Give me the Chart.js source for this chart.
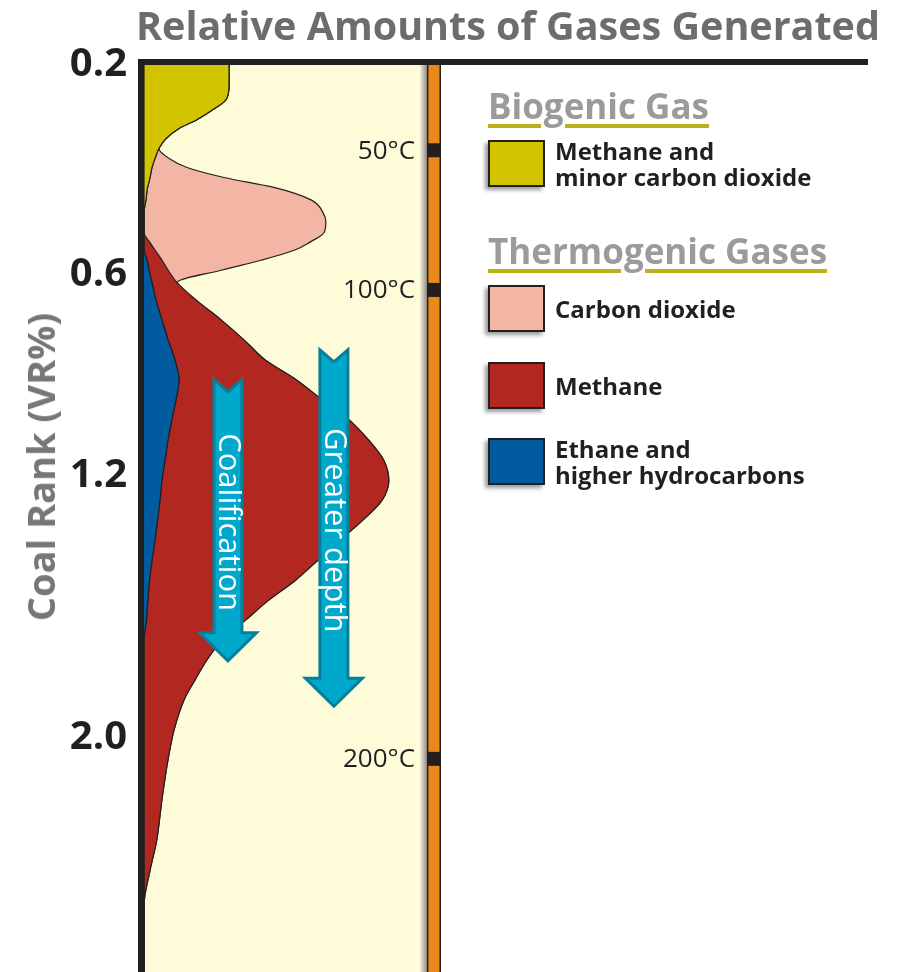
<!DOCTYPE html>
<html>
<head>
<meta charset="utf-8">
<script src="https://cdn.jsdelivr.net/npm/chart.js@4.4.1/dist/chart.umd.min.js"></script>
<style>
html,body{margin:0;padding:0;background:#fff;width:897px;height:972px;overflow:hidden;}
#wrap{position:relative;width:897px;height:972px;font-family:'Open Sans',sans-serif;}
canvas{position:absolute;left:0;top:0;}
#title{position:absolute;left:0;width:1016px;top:3px;text-align:center;font-weight:700;font-size:39.5px;line-height:44px;color:#6d6d6d;white-space:nowrap;}
#ytitle{position:absolute;left:40px;top:467px;transform:translate(-50%,-50%) rotate(-90deg);font-weight:700;font-size:38px;line-height:44px;color:#777;white-space:nowrap;}
.lg-head{position:absolute;left:488px;font-weight:700;font-size:35px;line-height:40px;color:#9b9b9b;white-space:nowrap;
  text-decoration:underline;text-decoration-color:#bdb01c;text-decoration-thickness:4px;text-underline-offset:5px;text-decoration-skip-ink:auto;}
.lg-item{position:absolute;left:488px;display:flex;align-items:center;height:47px;}
.lg-sw{width:57px;height:47px;box-sizing:border-box;border:2px solid #231f20;box-shadow:-3px 3px 4px rgba(0,0,0,0.4);flex:none;}
.lg-tx{margin-left:10px;font-weight:700;font-size:24px;line-height:26px;color:#231f20;white-space:nowrap;}
</style>
</head>
<body>
<div id="wrap">
  <canvas id="c" width="897" height="972"></canvas>
  <div id="title">Relative Amounts of Gases Generated</div>
  <div id="ytitle">Coal Rank (VR%)</div>
  <div id="legend"></div>
</div>
<script>
// ---- Axis labels ----
const rankTickLabels = ['0.2', '0.6', '1.2', '2.0'];
const rankTickDepth  = [0, 23.1, 45.3, 74.2];          // relative depth (0 = top, 100 = bottom)
const tempLabels = ['50\u00B0C', '100\u00B0C', '200\u00B0C'];
const tempDepth  = [9.4, 24.8, 76.5];

// ---- Shared depth samples (relative depth, 0..100) ----
const depth = [0,1.7,2.8,3.9,5.0,6.1,7.0,8.1,9.2,10.3,11.3,12.4,13.5,14.9,16.3,17.3,18.5,19.5,20.4,21.5,
  22.6,24.0,25.9,28.1,30.3,32.5,34.7,36.9,39.1,41.4,43.6,45.8,48.0,50.2,52.4,54.6,56.8,59.0,61.2,63.4,
  65.6,67.8,70.0,73.3,76.6,81.0,85.5,88.8,92.7,96.5,100];

// ---- Relative amounts generated (stacked widths) ----
const ethaneHigher = [0,0,0,0,0,0,0,0,0,0,0,0,0,0,0,0,0,0,0,1.1,
  1.8,2.9,4.3,6.5,8.7,11.2,12.7,11.6,10.1,8.7,7.6,6.5,5.8,4.9,4.0,2.9,2.0,1.4,0.9,0,
  0,0,0,0,0,0,0,0,0,0,0];
const biogenicMethane = [30.8,30.8,30.7,29.5,24.6,18.8,12.7,8.0,5.4,4.0,2.9,2.2,1.3,0.7,0,0,0,0,0,0,
  0,0,0,0,0,0,0,0,0,0,0,0,0,0,0,0,0,0,0,0,
  0,0,0,0,0,0,0,0,0,0,0];
const thermoMethane = [0,0,0,0,0,0,0,0,0,0,0,0,0,0,0,0,0,2.0,4.0,5.4,
  6.9,9.1,14.5,21.4,27.5,32.6,42.4,52.9,64.1,72.8,79.3,82.2,80.4,74.3,67.0,60.1,52.9,43.8,35.9,28.3,
  22.8,18.5,14.5,10.9,8.7,6.5,4.6,2.2,0,0,0];
const carbonDioxide = [0,0,0,0,0,0,0,0,0,5.1,12.7,26.8,45.8,60.0,64.9,65.9,65.2,58.3,50.7,36.2,
  19.6,0,0,0,0,0,0,0,0,0,0,0,0,0,0,0,0,0,0,0,
  0,0,0,0,0,0,0,0,0,0,0];

const legendGroups = [
  {heading: 'Biogenic Gas', items: [1]},
  {heading: 'Thermogenic Gases', items: [3, 2, 0]}
];

// ---- layout / style (not data) ----
const PANEL_MAX = 100;          // cream panel width in x units
const BAR_RANGE = [102.5, 107.6];
const X_MAX = 262.3;
const legendLayout = {headBaseline: [120, 265], itemTops: [[140], [285, 362, 438]]};
const arrowNotes = [
  {text: 'Coalification', cx: 30.4, top: 34.7, headBase: 62.6, tip: 65.7, textY: 50.4},
  {text: 'Greater depth', cx: 68.8, top: 31.4, headBase: 67.6, tip: 70.7, textY: 51.3}
];

function series(vals) { return vals.map((v, i) => ({x: v, y: depth[i]})); }

const lineStyle = {borderColor: '#231f20', borderWidth: 1.2, pointRadius: 0, cubicInterpolationMode: 'monotone'};
const datasets = [
  Object.assign({label: 'Ethane and\nhigher hydrocarbons', data: series(ethaneHigher), backgroundColor: '#005B9F', fill: 'origin'}, lineStyle),
  Object.assign({label: 'Methane and\nminor carbon dioxide', data: series(biogenicMethane), backgroundColor: '#D3C400', fill: '-1'}, lineStyle),
  Object.assign({label: 'Methane', data: series(thermoMethane), backgroundColor: '#B22821', fill: '-1'}, lineStyle),
  Object.assign({label: 'Carbon dioxide', data: series(carbonDioxide), backgroundColor: '#F3B6A4', fill: '-1'}, lineStyle)
];

const decor = {
  id: 'decor',
  beforeDatasetsDraw(chart) {
    const {ctx, chartArea: a, scales: {x, y}} = chart;
    ctx.save();
    const p0 = x.getPixelForValue(0), p1 = x.getPixelForValue(PANEL_MAX);
    const bL = x.getPixelForValue(BAR_RANGE[0]), bR = x.getPixelForValue(BAR_RANGE[1]);
    ctx.fillStyle = '#FEFBD8';
    ctx.fillRect(p0, a.top, p1 - p0, a.bottom - a.top);
    const g = ctx.createLinearGradient(p1, 0, bL, 0);
    g.addColorStop(0, '#f2f0d6'); g.addColorStop(1, '#8e8e8e');
    ctx.fillStyle = g;
    ctx.fillRect(p1, a.top, bL - p1, a.bottom - a.top);
    ctx.fillStyle = '#E8891A';
    ctx.fillRect(bL, a.top, bR - bL, a.bottom - a.top);
    ctx.strokeStyle = '#231f20'; ctx.lineWidth = 1.5;
    ctx.strokeRect(bL + 0.75, a.top - 2, bR - bL - 1.5, a.bottom - a.top + 4);
    ctx.font = '26px "Open Sans"';
    ctx.textAlign = 'right'; ctx.textBaseline = 'middle';
    tempDepth.forEach((d, i) => {
      const py = y.getPixelForValue(d);
      ctx.fillStyle = '#231f20';
      ctx.fillRect(bL, py - 7, bR - bL, 14);
      ctx.fillText(tempLabels[i], p1 - 5, py + 1);
    });
    ctx.restore();
  },
  afterDatasetsDraw(chart) {
    const {ctx, chartArea: a, scales: {x, y}} = chart;
    ctx.save();
    arrowNotes.forEach(n => {
      const cx = x.getPixelForValue(n.cx), t = y.getPixelForValue(n.top);
      const hb = y.getPixelForValue(n.headBase), tip = y.getPixelForValue(n.tip);
      const sw = 14, hw = 28.5, notch = 12;
      ctx.beginPath();
      ctx.moveTo(cx - sw, t); ctx.lineTo(cx, t + notch); ctx.lineTo(cx + sw, t);
      ctx.lineTo(cx + sw, hb); ctx.lineTo(cx + hw, hb); ctx.lineTo(cx, tip);
      ctx.lineTo(cx - hw, hb); ctx.lineTo(cx - sw, hb); ctx.closePath();
      ctx.fillStyle = '#00A9CC'; ctx.fill();
      ctx.lineJoin = 'miter'; ctx.lineWidth = 3; ctx.strokeStyle = '#067F9A'; ctx.stroke();
      ctx.save();
      ctx.translate(cx, y.getPixelForValue(n.textY));
      ctx.rotate(Math.PI / 2);
      ctx.fillStyle = '#ffffff'; ctx.font = '31px "Open Sans"';
      ctx.textAlign = 'center'; ctx.textBaseline = 'middle';
      ctx.fillText(n.text, 0, 0);
      ctx.restore();
    });
    ctx.fillStyle = '#231f20';
    ctx.fillRect(a.left - 6, a.top - 6, a.right - a.left + 6, 6);
    ctx.fillRect(a.left - 6, a.top - 6, 6, a.bottom - a.top + 6);
    ctx.restore();
  }
};

Chart.defaults.font.family = "'Open Sans', sans-serif";
const chart = new Chart(document.getElementById('c'), {
  type: 'line',
  data: {datasets},
  plugins: [decor],
  options: {
    indexAxis: 'y',
    responsive: false,
    animation: false,
    devicePixelRatio: 1,
    layout: {padding: {top: 65, left: 0, right: 29, bottom: 0}},
    plugins: {legend: {display: false}, tooltip: {enabled: false}, title: {display: false}},
    scales: {
      x: {type: 'linear', min: 0, max: X_MAX, stacked: true, display: false},
      y: {
        type: 'linear', min: 0, max: 100, reverse: true,
        grid: {display: false, drawTicks: false},
        border: {display: false},
        afterFit: s => { s.width = 144; s.paddingTop = 0; s.paddingBottom = 0; },
        afterBuildTicks: s => { s.ticks = rankTickDepth.map(v => ({value: v})); },
        ticks: {
          autoSkip: false, padding: 17, color: '#231f20',
          font: {size: 40, weight: 'bold'},
          callback: (v, i) => rankTickLabels[i]
        }
      }
    }
  }
});

// HTML legend generated from the chart's datasets
(function buildLegend() {
  const box = document.getElementById('legend');
  legendGroups.forEach((g, gi) => {
    const h = document.createElement('div');
    h.className = 'lg-head';
    h.textContent = g.heading;
    h.style.top = (legendLayout.headBaseline[gi] - 33.6) + 'px';
    box.appendChild(h);
    g.items.forEach((di, ii) => {
      const ds = chart.data.datasets[di];
      const it = document.createElement('div');
      it.className = 'lg-item';
      it.style.top = legendLayout.itemTops[gi][ii] + 'px';
      const sw = document.createElement('div');
      sw.className = 'lg-sw';
      sw.style.background = ds.backgroundColor;
      const tx = document.createElement('div');
      tx.className = 'lg-tx';
      ds.label.split('\n').forEach((line, li) => {
        if (li) tx.appendChild(document.createElement('br'));
        tx.appendChild(document.createTextNode(line));
      });
      it.appendChild(sw); it.appendChild(tx);
      box.appendChild(it);
    });
  });
})();
</script>
</body>
</html>
